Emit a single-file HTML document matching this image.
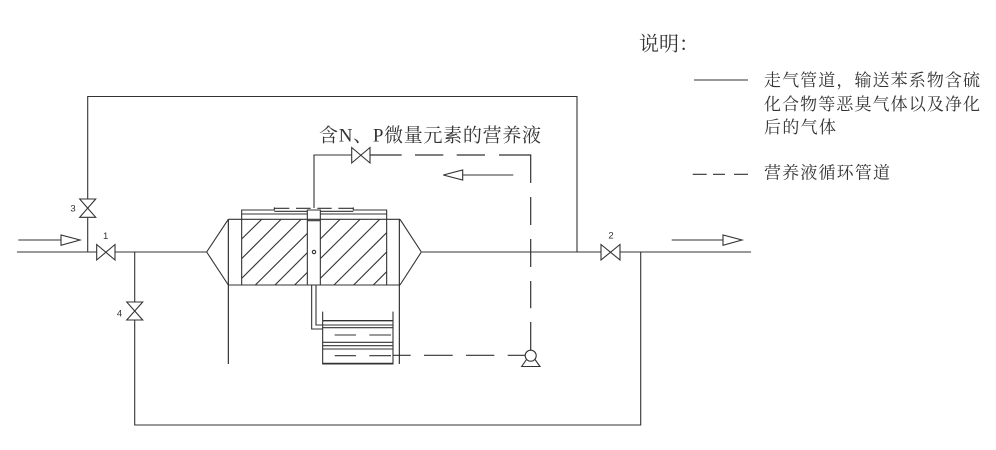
<!DOCTYPE html>
<html><head><meta charset="utf-8">
<style>
html,body{margin:0;padding:0;background:#fff;width:996px;height:450px;overflow:hidden}
svg{display:block}
text{fill:#333;font-family:"Liberation Serif","Noto Serif CJK SC",serif}
.n{font-family:"Liberation Sans",sans-serif;font-size:9.5px;text-anchor:middle;fill:#333}
.l{font-size:17px}
</style></head><body>
<svg width="996" height="450" viewBox="0 0 996 450" fill="none" stroke="#333" stroke-width="1.1">
<!-- main pipes -->
<path d="M17 252H207M422 252H751"/>
<path d="M87.7 252V217M87.7 199V96.500H577V252"/>
<path d="M134.700 252V302M134.700 320V425H640.700V252"/>
<!-- valves -->
<path d="M96.700 244.500V260L115 244.500V260ZM601 244.500V260L620 244.500V260Z" fill="#fff"/>
<path d="M79.700 199H95.700L79.700 217.300H95.700ZM126.700 302H142.700L126.700 320H142.700Z" fill="#fff"/>
<path d="M351.700 147.500V163L370 147.500V163Z" fill="#fff"/>
<!-- arrows -->
<path d="M18.300 240H61M671.700 240H723M462.700 175H513.300"/>
<path d="M61 235V245.300L80 240ZM723 235V245.300L742 240ZM462.700 170V180L443.300 175Z" fill="#fff"/>
<!-- nutrient feed -->
<path d="M314 208V155H351.700"/>
<path d="M370 155H401.700M415 155H443.300M456.700 155H485M499 155H530.700V183M530.700 197V225M530.700 239V267M530.700 281V308.300M530.700 322V350" stroke-width="1.200"/>
<path d="M392.700 355.300H410.700M424 355.300H452.700M466 355.300H494.300M507.700 355.300H525.500" stroke-width="1.200"/>
<!-- pump -->
<circle cx="530.700" cy="355.700" r="5.500" fill="#fff"/>
<path d="M526.500 359.500L521.700 366.500H540L535 359.500"/>
<!-- reactor, drawn in 3x zoom coordinates -->
<g transform="translate(190 190) scale(.33333)" stroke-width="3.300">
<path d="M115 88L50 186L115 285M630 88L694 186L630 285"/>
<path d="M115 88H630M115 285H630"/>
<path d="M115 88V522M628 88V522" stroke="#222"/>
<path d="M155 285V60H253V52M590 285V60H490V52"/>
<path d="M155 72H352M391 72H590M253 64H352M391 64H490"/>
<path d="M253 55H298M318 55H362M382 55H425M445 55H490"/>
<path d="M352 285V60H391V285M352 92H391"/>
<circle cx="372" cy="186" r="5"/>
<path d="M155 147L215 88M155 206L273 88M155 265L333 88M196 285L352 130M255 285L352 188M314 285L352 247"/>
<path d="M391 147L450 88M391 206L510 88M391 265L569 88M432 285L590 128M491 285L590 186M550 285L590 245"/>
<!-- drain and tank -->
<path d="M365 285V417H398M378 285V405H398"/>
<path d="M398 365V522H609V365"/>
<path d="M398 392H609" stroke-width="4"/>
<path d="M398 405H609M398 413H609M398 457H609M398 467H609M398 477H609M398 520H609"/>
<path d="M434 435H498M538 435H603M434 497H498M538 497H603"/>
</g>
<!-- legend lines -->
<path d="M694 80H748"/>
<path d="M692.700 174.300H706.700M713 174.300H725M734 174.300H748"/>
<!-- text -->
<g stroke="none">
<text x="319" y="141.500" font-size="19" textLength="222" lengthAdjust="spacing">含N、P微量元素的营养液</text>
<text x="639" y="50.500" font-size="20">说明：</text>
<text class="l" x="764" y="86" textLength="216" lengthAdjust="spacing">走气管道，输送苯系物含硫</text>
<text class="l" x="764" y="110" textLength="216" lengthAdjust="spacing">化合物等恶臭气体以及净化</text>
<text class="l" x="764" y="133" textLength="72" lengthAdjust="spacing">后的气体</text>
<text class="l" x="764" y="178.500" textLength="126" lengthAdjust="spacing">营养液循环管道</text>
<text class="n" x="73" y="211.500">3</text>
<text class="n" x="105.700" y="239">1</text>
<text class="n" x="119.500" y="316.500">4</text>
<text class="n" x="611" y="238.500">2</text>
</g>
</svg>
</body></html>
